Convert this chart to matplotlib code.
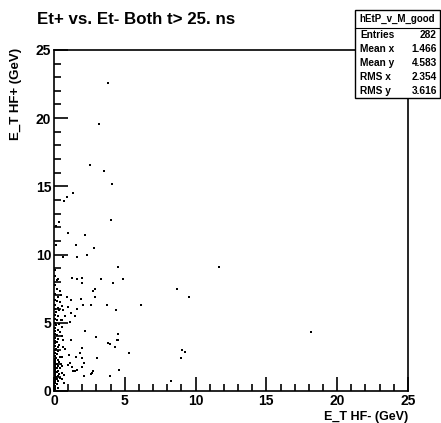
import matplotlib
matplotlib.use("Agg")
import matplotlib.pyplot as plt
from matplotlib.ticker import MultipleLocator
from matplotlib.patches import Rectangle

# scattered entries (E_T HF-, E_T HF+)
sparse_x = [3.85, 3.19, 2.53, 3.55, 4.07, 1.35, 0.90, 0.71, 4.06, 0.35, 0.12, 0.99,
            2.2, 0.14, 1.54, 2.86, 0.66, 1.65, 2.32, 4.54, 11.63, 1.3, 1.65, 1.96,
            1.96, 3.32, 4.18, 4.85, 0.24, 2.89, 2.79, 2.91, 8.67, 9.56, 0.9, 1.22,
            1.94, 2.08, 2.64, 3.78, 6.16, 4.4, 1.02, 1.61, 0.64, 0.78, 1.18, 1.49,
            0.59, 1.11, 2.2, 3.0, 4.52, 4.46, 4.55, 3.96, 4.3, 18.13, 9.03, 9.22,
            9.0, 8.25, 0.66, 1.18, 3.83, 5.27, 2.0, 1.84, 1.06, 1.58, 1.96, 3.07,
            2.13, 1.13, 1.3, 1.35, 1.49, 2.0, 2.77, 2.67, 2.13, 3.96, 4.62, 0.8,
            0.97, 1.62, 2.6]
sparse_y = [22.6, 19.6, 16.6, 16.1, 15.2, 14.5, 14.2, 13.9, 12.5, 12.4, 12.1, 11.6,
            11.4, 10.7, 10.7, 10.5, 9.8, 9.8, 10.0, 9.1, 9.07, 8.3, 8.2, 8.3,
            7.9, 8.2, 7.9, 8.2, 8.1, 7.45, 7.35, 6.86, 7.45, 6.88, 6.9, 6.7,
            6.75, 6.3, 6.3, 6.3, 6.3, 5.96, 6.15, 6.03, 5.96, 5.46, 5.7, 5.46,
            5.17, 5.05, 4.4, 3.98, 4.17, 3.75, 3.75, 3.46, 3.26, 4.29, 3.01, 2.89,
            2.45, 0.74, 3.75, 3.75, 3.5, 2.77, 3.14, 2.82, 2.65, 2.47, 2.4, 2.4,
            2.03, 2.08, 1.79, 1.49, 1.49, 1.74, 1.49, 1.3, 1.13, 1.1, 1.52, 3.07,
            1.88, 1.55, 1.23]

# dense column of entries close to E_T HF- = 0
core_x = [0.05, 0.1, 0.3, 0.05, 0.2, 0.45, 0.1, 0.3, 0.05, 0.2, 0.4, 0.1, 0.25, 0.05,
          0.35, 0.15, 0.05, 0.3, 0.1, 0.2, 0.05, 0.35, 0.15, 0.05, 0.25, 0.1, 0.4,
          0.05, 0.2, 0.1, 0.3, 0.05, 0.2, 0.1, 0.35, 0.05, 0.25, 0.15, 0.05, 0.3,
          0.1, 0.2, 0.05, 0.4, 0.15, 0.05, 0.25, 0.1, 0.35, 0.05, 0.2, 0.5, 0.1,
          0.3, 0.05, 0.2, 0.45, 0.1, 0.3, 0.05, 0.2, 0.55, 0.1, 0.35, 0.05, 0.25,
          0.15, 0.4, 0.05, 0.2, 0.1, 0.3, 0.05, 0.2, 0.1, 0.05, 0.3, 0.1, 0.6,
          0.7, 0.6, 0.65, 0.55, 0.6, 0.5, 0.55, 0.5, 0.6, 0.7]
core_y = [8.9, 8.4, 8.2, 7.8, 7.5, 7.3, 7.1, 6.9, 6.7, 6.6, 6.5, 6.3, 6.1, 6.0,
          5.9, 5.8, 5.6, 5.5, 5.3, 5.2, 5.0, 4.9, 4.8, 4.6, 4.5, 4.4, 4.3,
          4.2, 4.1, 3.9, 3.8, 3.7, 3.6, 3.5, 3.4, 3.3, 3.2, 3.1, 3.0, 2.9,
          2.8, 2.7, 2.6, 2.5, 2.45, 2.35, 2.3, 2.2, 2.15, 2.05, 2.0, 1.95, 1.9,
          1.85, 1.75, 1.7, 1.65, 1.6, 1.5, 1.45, 1.4, 1.35, 1.3, 1.25, 1.15, 1.1,
          1.0, 0.95, 0.9, 0.85, 0.75, 0.7, 0.6, 0.5, 0.4, 0.3, 0.25, 0.15, 0.9,
          1.2, 2.5, 3.2, 4.0, 4.7, 5.2, 6.2, 7.0, 1.8, 0.6]

stat_names = ["Entries", "Mean x", "Mean y", "RMS x", "RMS y"]
stat_values = ["282", "1.466", "4.583", "2.354", "3.616"]

plt.rcParams['font.family'] = ['Liberation Sans', 'DejaVu Sans']
plt.rcParams['font.weight'] = 'bold'

W, H = 441, 423
fig = plt.figure(figsize=(4.41, 4.23), dpi=100)
ax = fig.add_axes([0.1224, 0.0757, 0.8026, 0.8063])

ax.scatter(sparse_x + core_x, sparse_y + core_y, marker='s', s=4,
           color='black', linewidths=0)

ax.set_xlim(0, 25)
ax.set_ylim(0, 25)
ax.xaxis.set_major_locator(MultipleLocator(5))
ax.yaxis.set_major_locator(MultipleLocator(5))
ax.xaxis.set_minor_locator(MultipleLocator(1))
ax.yaxis.set_minor_locator(MultipleLocator(1))
ax.tick_params(which='both', direction='in', top=False, right=False,
               width=1.2, labelsize=10)
ax.tick_params(which='major', length=10)
ax.tick_params(which='minor', length=5)
ax.tick_params(axis='y', pad=2)
ax.tick_params(axis='x', pad=2)
for lab in ax.get_xticklabels() + ax.get_yticklabels():
    lab.set_fontweight('bold')
for sp in ax.spines.values():
    sp.set_linewidth(1.2)

fig.text(37 / W, 1 - 20 / H, "Et+ vs. Et- Both t> 25. ns", fontsize=12.2,
         fontweight='bold', va='center', ha='left')
fig.text(408 / W, 1 - 417 / H, "E_T HF- (GeV)", fontsize=9, fontweight='bold',
         ha='right', va='center')
fig.text(16 / W, 1 - 48 / H, "E_T HF+ (GeV)", fontsize=9.5, fontweight='bold',
         ha='center', va='top', rotation=90)

# stats box
bx0, bx1 = 355 / W, 440 / W
by_top, by_bot = 1 - 10 / H, 1 - 98 / H
head_bot = 1 - 28 / H
fig.patches.append(Rectangle((bx0, by_bot), bx1 - bx0, by_top - by_bot,
                             transform=fig.transFigure, fill=True,
                             facecolor='white', edgecolor='black', lw=1.0))
fig.lines.append(plt.Line2D([bx0, bx1], [head_bot, head_bot],
                            transform=fig.transFigure, color='black', lw=0.8))
fig.text((bx0 + bx1) / 2, (by_top + head_bot) / 2, "hEtP_v_M_good",
         fontsize=7, fontweight='bold', ha='center', va='center')
for i, (n, v) in enumerate(zip(stat_names, stat_values)):
    yy = 1 - (35 + 14 * i) / H
    fig.text(bx0 + 5 / W, yy, n, fontsize=7.3, fontweight='bold',
             ha='left', va='center')
    fig.text(bx1 - 3 / W, yy, v, fontsize=7.3, fontweight='bold',
             ha='right', va='center')

fig.savefig("out.png", dpi=100)
